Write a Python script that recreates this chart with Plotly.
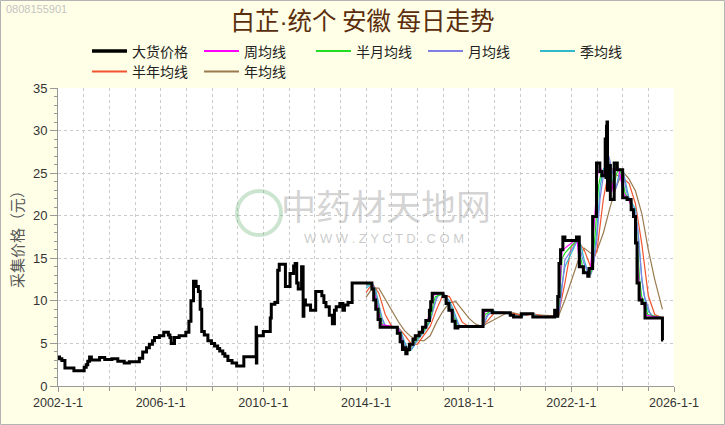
import plotly.graph_objects as go

# ---------------- data ----------------
price_years = [2002.00, 2002.06, 2002.15, 2002.27, 2002.62, 2003.02, 2003.10, 2003.16, 2003.23, 2003.30,
               2003.62, 2003.82, 2004.10, 2004.33, 2004.58, 2004.78, 2005.17, 2005.30, 2005.45, 2005.56,
               2005.68, 2005.76, 2005.95, 2006.12, 2006.30, 2006.36, 2006.41, 2006.54, 2006.72, 2006.98,
               2007.10, 2007.18, 2007.28, 2007.38, 2007.47, 2007.54, 2007.60, 2007.70, 2007.84, 2007.98,
               2008.10, 2008.22, 2008.30, 2008.42, 2008.50, 2008.62, 2008.78, 2008.96, 2009.24, 2009.72,
               2009.73, 2009.745, 2010.00, 2010.27, 2010.31, 2010.45, 2010.56, 2010.62, 2010.86, 2011.04,
               2011.18, 2011.24, 2011.30, 2011.36, 2011.49, 2011.55, 2011.58, 2011.64, 2011.84, 2012.04,
               2012.28, 2012.36, 2012.44, 2012.57, 2012.69, 2012.77, 2012.84, 2012.98, 2013.10, 2013.16,
               2013.30, 2013.46, 2014.23, 2014.30, 2014.38, 2014.47, 2014.55, 2015.22, 2015.33, 2015.42,
               2015.50, 2015.55, 2015.60, 2015.69, 2015.83, 2015.92, 2016.07, 2016.20, 2016.33, 2016.47,
               2016.52, 2016.58, 2017.00, 2017.12, 2017.23, 2017.36, 2017.47, 2017.58, 2018.56, 2018.92,
               2019.62, 2019.75, 2020.05, 2020.50, 2021.35, 2021.42, 2021.47, 2021.52, 2021.58, 2021.67,
               2021.75, 2022.20, 2022.31, 2022.47, 2022.64, 2022.69, 2022.83, 2022.98, 2023.11, 2023.19,
               2023.32, 2023.35, 2023.37, 2023.39, 2023.41, 2023.45, 2023.52, 2023.67, 2023.79, 2024.00,
               2024.17, 2024.33, 2024.42, 2024.50, 2024.56, 2024.64, 2024.75, 2024.87, 2025.55, 2025.58]
price_values = [3.4, 3.2, 3.0, 2.1, 1.8, 2.2, 2.5, 2.9, 3.4, 3.05,
                3.35, 3.1, 3.2, 2.9, 2.7, 2.85, 3.25, 4.0, 4.5, 4.9,
                5.3, 5.7, 5.9, 6.3, 6.0, 5.7, 5.0, 5.7, 5.9, 6.3,
                7.6, 10.0, 12.3, 11.7, 11.1, 9.0, 6.4, 6.0, 5.3, 5.0,
                4.7, 4.4, 4.1, 3.8, 3.5, 3.0, 2.7, 2.35, 3.45, 6.9,
                2.7, 5.9, 6.4, 8.0, 9.6, 9.8, 13.6, 14.3, 11.7, 13.2,
                14.1, 14.4, 12.1, 11.4, 14.0, 8.2, 10.1, 9.5, 8.9, 11.1,
                10.6, 9.8, 9.3, 8.3, 7.3, 8.9, 9.3, 9.7, 8.9, 9.5,
                9.8, 12.1, 11.4, 10.1, 9.0, 7.8, 6.9, 6.2, 5.2, 4.3,
                4.5, 3.8, 4.3, 4.9, 5.5, 5.9, 6.3, 6.9, 7.7, 8.9,
                9.9, 10.9, 10.5, 9.7, 8.9, 7.6, 6.8, 7.0, 8.9, 8.6,
                8.3, 8.1, 8.5, 8.1, 8.9, 8.2, 10.5, 14.4, 16.0, 17.5,
                17.1, 17.5, 14.0, 13.3, 12.9, 13.8, 19.9, 26.2, 25.2, 24.7,
                29.0, 24.5, 30.5, 31.0, 23.0, 25.9, 21.9, 26.2, 25.4, 22.1,
                21.9, 20.7, 19.9, 16.8, 12.1, 10.1, 9.7, 8.0, 5.4, 5.4]

week_years = [2014.00, 2014.23, 2014.30, 2014.40, 2014.50, 2014.60, 2015.22, 2015.30, 2015.40, 2015.50,
              2015.62, 2015.72, 2015.88, 2016.00, 2016.12, 2016.25, 2016.38, 2016.50, 2016.56, 2016.64,
              2017.00, 2017.06, 2017.17, 2017.28, 2017.41, 2017.52, 2017.62, 2018.56, 2018.62, 2018.92,
              2018.98, 2019.62, 2019.70, 2019.80, 2020.05, 2020.10, 2020.50, 2020.56, 2021.35, 2021.40,
              2021.47, 2021.53, 2021.58, 2021.64, 2021.75, 2022.22, 2022.28, 2022.36, 2022.50, 2022.67,
              2022.74, 2022.88, 2023.03, 2023.15, 2023.28, 2023.38, 2023.43, 2023.49, 2023.57, 2023.71,
              2023.84, 2024.05, 2024.22, 2024.37, 2024.46, 2024.54, 2024.60, 2024.68, 2024.80, 2024.92,
              2025.55]
week_values = [12.0, 12.1, 11.3, 10.0, 8.8, 7.2, 6.9, 6.4, 5.4, 4.5,
               4.0, 4.6, 5.4, 5.8, 6.2, 6.8, 7.6, 8.6, 9.7, 10.7,
               10.9, 10.5, 9.8, 9.0, 7.8, 6.9, 6.9, 7.0, 8.7, 8.9,
               8.6, 8.6, 8.3, 8.1, 8.1, 8.5, 8.5, 8.1, 8.1, 8.8,
               8.4, 11.0, 14.2, 15.8, 16.2, 17.3, 15.5, 14.2, 13.5, 13.0,
               13.6, 18.5, 25.0, 25.5, 24.8, 28.5, 27.0, 25.0, 22.8, 25.5,
               25.6, 22.5, 22.0, 20.9, 20.0, 17.5, 13.5, 10.6, 9.8, 8.3,
               8.0]

halfmonth_years = [2014.00, 2014.23, 2014.33, 2014.43, 2014.53, 2014.65, 2015.22, 2015.34, 2015.45, 2015.56,
                   2015.68, 2015.78, 2015.92, 2016.05, 2016.17, 2016.30, 2016.43, 2016.54, 2016.61, 2016.70,
                   2017.00, 2017.10, 2017.21, 2017.33, 2017.46, 2017.57, 2017.68, 2018.56, 2018.64, 2018.92,
                   2019.00, 2019.62, 2019.72, 2019.83, 2020.05, 2020.13, 2020.50, 2020.58, 2021.35, 2021.45,
                   2021.52, 2021.58, 2021.64, 2021.75, 2022.22, 2022.32, 2022.42, 2022.55, 2022.70, 2022.78,
                   2022.92, 2023.06, 2023.18, 2023.30, 2023.41, 2023.47, 2023.55, 2023.64, 2023.76, 2023.90,
                   2024.10, 2024.27, 2024.42, 2024.52, 2024.60, 2024.66, 2024.74, 2024.86, 2024.98, 2025.55]
halfmonth_values = [11.9, 12.0, 11.0, 9.7, 8.4, 7.1, 6.9, 6.1, 5.0, 4.4,
                    4.1, 4.7, 5.3, 5.8, 6.2, 6.7, 7.5, 8.4, 9.5, 10.5,
                    10.8, 10.4, 9.7, 8.8, 7.7, 7.0, 6.9, 7.0, 8.4, 8.9,
                    8.6, 8.6, 8.3, 8.1, 8.1, 8.4, 8.5, 8.1, 8.1, 8.7,
                    9.6, 12.5, 15.0, 15.6, 17.2, 15.6, 14.3, 13.4, 13.0, 13.5,
                    17.5, 23.5, 25.3, 25.0, 27.5, 26.2, 24.8, 23.0, 25.0, 25.5,
                    22.6, 21.8, 20.6, 19.0, 15.5, 12.5, 10.5, 9.7, 8.4, 8.0]

month_years = [2014.00, 2014.25, 2014.38, 2014.50, 2014.62, 2014.75, 2015.25, 2015.40, 2015.52, 2015.64,
               2015.76, 2015.88, 2016.00, 2016.12, 2016.25, 2016.38, 2016.52, 2016.62, 2016.72, 2016.82,
               2017.05, 2017.18, 2017.30, 2017.42, 2017.55, 2017.66, 2017.78, 2018.58, 2018.70, 2018.95,
               2019.05, 2019.65, 2019.78, 2019.90, 2020.08, 2020.20, 2020.52, 2020.64, 2021.40, 2021.50,
               2021.56, 2021.62, 2021.68, 2021.75, 2022.24, 2022.36, 2022.48, 2022.62, 2022.76, 2022.84,
               2022.98, 2023.12, 2023.26, 2023.36, 2023.46, 2023.54, 2023.64, 2023.74, 2023.88, 2024.02,
               2024.15, 2024.32, 2024.48, 2024.58, 2024.66, 2024.74, 2024.84, 2024.96, 2025.10, 2025.55]
month_values = [11.8, 12.0, 10.8, 9.3, 7.9, 7.0, 6.9, 5.8, 4.8, 4.3,
                4.3, 4.9, 5.5, 5.9, 6.4, 7.0, 7.9, 9.0, 10.0, 10.7,
                10.8, 10.2, 9.3, 8.4, 7.5, 7.0, 6.9, 7.0, 8.2, 8.8,
                8.6, 8.5, 8.2, 8.1, 8.2, 8.4, 8.4, 8.1, 8.1, 8.6,
                9.3, 11.0, 13.0, 14.8, 17.1, 15.9, 14.5, 13.5, 13.1, 13.8,
                16.8, 22.0, 25.0, 25.1, 27.0, 26.0, 24.6, 23.2, 24.8, 25.2,
                22.8, 21.6, 20.4, 18.5, 15.5, 12.8, 10.6, 9.4, 8.3, 8.0]

quarter_years = [2014.00, 2014.25, 2014.375, 2014.50, 2014.625, 2014.75, 2014.875, 2015.25, 2015.375, 2015.50,
                 2015.625, 2015.75, 2015.875, 2016.00, 2016.25, 2016.50, 2016.625, 2016.75, 2017.00, 2017.25,
                 2017.375, 2017.50, 2017.625, 2017.75, 2018.50, 2018.625, 2018.75, 2019.00, 2019.25, 2019.75,
                 2020.00, 2020.25, 2020.50, 2020.75, 2021.25, 2021.50, 2021.625, 2021.75, 2022.25, 2022.375,
                 2022.50, 2022.625, 2022.75, 2022.875, 2023.00, 2023.125, 2023.25, 2023.50, 2023.625, 2023.75,
                 2023.875, 2024.00, 2024.25, 2024.50, 2024.625, 2024.75, 2024.875, 2025.00, 2025.25, 2025.55]
quarter_values = [11.5, 12.0, 11.3, 9.7, 8.0, 7.1, 6.9, 6.8, 6.3, 5.2,
                  4.4, 4.2, 4.7, 5.4, 6.3, 7.6, 9.0, 10.5, 10.9, 10.0,
                  9.2, 8.1, 7.1, 6.9, 7.0, 7.5, 8.4, 8.8, 8.6, 8.4,
                  8.1, 8.4, 8.5, 8.1, 8.1, 8.6, 11.7, 14.0, 17.2, 16.5,
                  14.8, 13.6, 13.3, 14.7, 18.4, 23.5, 25.5, 26.3, 23.4, 23.3,
                  25.1, 25.5, 22.0, 20.8, 17.3, 12.4, 10.0, 8.8, 8.0, 8.0]

halfyear_years = [2014.00, 2014.25, 2014.50, 2014.75, 2015.00, 2015.25, 2015.50, 2015.75, 2016.00, 2016.25,
                  2016.50, 2016.75, 2017.00, 2017.25, 2017.50, 2017.75, 2018.00, 2018.50, 2018.75, 2019.00,
                  2019.25, 2019.50, 2019.75, 2020.00, 2020.25, 2020.50, 2020.75, 2021.00, 2021.50, 2021.75,
                  2022.00, 2022.25, 2022.50, 2022.75, 2023.00, 2023.25, 2023.50, 2023.75, 2024.00, 2024.25,
                  2024.50, 2024.75, 2025.00, 2025.25, 2025.55]
halfyear_values = [11.0, 12.0, 10.9, 8.4, 7.0, 6.9, 6.0, 5.0, 4.9, 5.9,
                   7.0, 9.0, 10.7, 10.5, 9.0, 7.5, 7.0, 7.0, 7.7, 8.6,
                   8.7, 8.6, 8.5, 8.3, 8.3, 8.5, 8.3, 8.1, 8.4, 12.1,
                   16.4, 17.1, 16.0, 14.0, 15.9, 22.0, 25.9, 24.8, 24.4, 23.8,
                   21.4, 16.6, 10.6, 8.4, 8.0]

year_years = [2014.00, 2014.25, 2014.50, 2014.75, 2015.00, 2015.25, 2015.50, 2015.75, 2016.00, 2016.25,
              2016.50, 2016.75, 2017.00, 2017.25, 2017.50, 2017.75, 2018.00, 2018.25, 2018.50, 2018.75,
              2019.00, 2019.25, 2019.50, 2019.75, 2020.00, 2020.50, 2021.00, 2021.50, 2021.75, 2022.00,
              2022.25, 2022.50, 2022.75, 2023.00, 2023.25, 2023.50, 2023.75, 2024.00, 2024.25, 2024.50,
              2024.75, 2025.00, 2025.25, 2025.55]
year_values = [10.4, 11.5, 11.5, 10.2, 8.9, 7.6, 6.5, 5.8, 5.4, 5.3,
               5.9, 7.5, 8.8, 9.8, 9.9, 9.0, 8.0, 7.3, 7.0, 7.4,
               7.8, 8.2, 8.6, 8.6, 8.4, 8.4, 8.3, 8.2, 10.1, 12.4,
               14.6, 16.2, 15.6, 15.9, 18.0, 20.9, 23.4, 25.2, 24.3, 22.9,
               20.2, 16.0, 12.5, 9.0]

series_names = ["大货价格", "周均线", "半月均线", "月均线", "季均线", "半年均线", "年均线"]
x_tick_vals = [2002, 2006, 2010, 2014, 2018, 2022, 2026]
x_tick_text = ["2002-1-1", "2006-1-1", "2010-1-1", "2014-1-1", "2018-1-1", "2022-1-1", "2026-1-1"]
y_tick_vals = [0, 5, 10, 15, 20, 25, 30, 35]

# ---------------- figure ----------------
W, H = 725, 425
L, R, T, B = 58, 51, 88, 39
PW, PH = W - L - R, H - T - B


def px_x(p):
    return (p - L) / PW


def px_y(p):
    return (H - B - p) / PH


cjk = "Noto Sans CJK SC"
fig = go.Figure()

ma_specs = [
    (week_years, week_values, series_names[1], "#FF00FF", "legend", 2),
    (halfmonth_years, halfmonth_values, series_names[2], "#22DD22", "legend", 3),
    (month_years, month_values, series_names[3], "#7F7FE6", "legend", 4),
    (quarter_years, quarter_values, series_names[4], "#2FB9C9", "legend", 5),
    (halfyear_years, halfyear_values, series_names[5], "#F0552F", "legend2", 6),
    (year_years, year_values, series_names[6], "#9A7B4F", "legend2", 7),
]
# long averages drawn first so short ones sit on top
for xs, ys, name, color, lg, rank in reversed(ma_specs):
    fig.add_trace(go.Scatter(x=xs, y=ys, mode="lines", name=name, showlegend=False,
                             line=dict(color=color, width=1.2)))

fig.add_trace(go.Scatter(x=price_years, y=price_values, mode="lines", name=series_names[0],
                         showlegend=False, line=dict(color="black", width=3, shape="hv")))

# legend entries (empty traces, only to give the legend thicker sample lines)
fig.add_trace(go.Scatter(x=[None], y=[None], mode="lines", name=series_names[0], legend="legend",
                         legendrank=1, line=dict(color="black", width=3.5)))
for xs, ys, name, color, lg, rank in ma_specs:
    fig.add_trace(go.Scatter(x=[None], y=[None], mode="lines", name=name, legend=lg,
                             legendrank=rank, line=dict(color=color, width=2)))

grid = "#CBCBCB"
title_text = ("白芷<span style='font-family:Liberation Sans'>·</span>统个 安徽 每日走势")
legend_common = dict(orientation="h", xanchor="left", yanchor="top",
                     entrywidth=62, entrywidthmode="pixels", bgcolor="rgba(0,0,0,0)",
                     font=dict(family=cjk, size=14, color="#222222"), itemwidth=35, tracegroupgap=0)
fig.update_layout(
    width=W, height=H,
    margin=dict(l=L, r=R, t=T, b=B, pad=0),
    paper_bgcolor="#FFFFE7",
    plot_bgcolor="#FFFFFF",
    font=dict(family="Liberation Sans, Arial", color="#333333"),
    title=dict(text=title_text, x=0.5, xanchor="center", y=1 - 21 / H, yanchor="middle",
               font=dict(family=cjk, size=24.5, color="#5A2D0C")),
    xaxis=dict(range=[2002, 2026], tickvals=x_tick_vals, ticktext=x_tick_text,
               ticks="outside", ticklen=5, tickcolor="#999999",
               showline=True, linecolor="#999999", linewidth=1, mirror=False,
               showgrid=True, gridcolor=grid, griddash="dot", gridwidth=1, zeroline=False,
               tickfont=dict(size=12.5, color="#333333"),
               minor=dict(dtick=1, tick0=2002, ticks="outside", ticklen=4, tickcolor="#999999",
                          showgrid=True, gridcolor=grid, griddash="dot", gridwidth=1)),
    yaxis=dict(range=[0, 35], tickvals=y_tick_vals,
               ticks="outside", ticklen=7, tickcolor="#999999",
               showline=True, linecolor="#999999", linewidth=1,
               showgrid=True, gridcolor=grid, griddash="dot", gridwidth=1, zeroline=False,
               tickfont=dict(size=13, color="#333333"),
               minor=dict(dtick=1, ticks="outside", ticklen=3, tickcolor="#999999", showgrid=False)),
    legend=dict(x=px_x(87), y=px_y(35.5), **legend_common),
    legend2=dict(x=px_x(87), y=px_y(56), **legend_common),
    showlegend=True,
)

annotations = [
    dict(text="0808155901", x=px_x(4), y=px_y(9), xref="paper", yref="paper", xanchor="left",
         yanchor="middle", showarrow=False, font=dict(family="Liberation Sans", size=11, color="#C4C4C4")),
    dict(text="采集价格（元）", x=px_x(17), y=px_y(236), xref="paper", yref="paper", textangle=-90,
         xanchor="center", yanchor="middle", showarrow=False, font=dict(family=cjk, size=15, color="#555555")),
    dict(text="中药材天地网", x=px_x(386), y=px_y(204), xref="paper", yref="paper",
         xanchor="center", yanchor="middle", showarrow=False,
         font=dict(family=cjk, size=35, color="rgba(150,150,150,0.42)")),
    dict(text="W W W . Z Y C T D . C O M", x=px_x(384), y=px_y(238), xref="paper", yref="paper",
         xanchor="center", yanchor="middle", showarrow=False,
         font=dict(family="Liberation Sans", size=13, color="rgba(150,150,150,0.5)")),
]
fig.update_layout(annotations=annotations)

fig.add_shape(type="circle", xref="paper", yref="paper",
              x0=px_x(237), x1=px_x(281), y0=px_y(235), y1=px_y(191),
              line=dict(color="rgba(110,180,120,0.35)", width=4), layer="above")
fig.add_shape(type="rect", xref="paper", yref="paper",
              x0=px_x(0.5), x1=px_x(724.5), y0=px_y(424.5), y1=px_y(0.5),
              line=dict(color="#B4B4B4", width=1), layer="below")

fig.write_html("out.html", config={"displayModeBar": False},
               post_script="document.body.style.margin='0px';")
